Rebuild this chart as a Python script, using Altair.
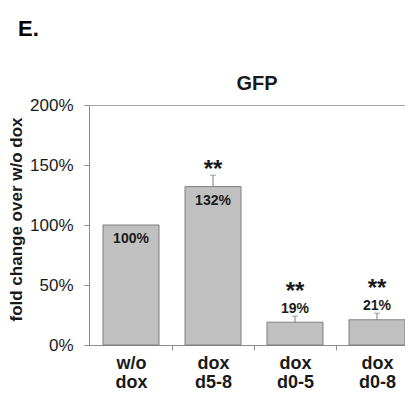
import altair as alt
import pandas as pd

FONT = "Liberation Sans"

# ---- data ----
categories = ["w/o dox", "dox d5-8", "dox d0-5", "dox d0-8"]
values = [1.00, 1.32, 0.19, 0.21]
errors = [0.0, 0.095, 0.05, 0.055]
value_labels = ["100%", "132%", "19%", "21%"]
stars = ["", "**", "**", "**"]
y_ticks = [0, 0.5, 1.0, 1.5, 2.0]
chart_title = ["GFP"]
panel_label = ["E."]

df = pd.DataFrame({
    "cat": categories,
    "value": values,
    "err": errors,
    "label": value_labels,
    "star": stars,
})
df["top"] = df["value"] + df["err"]

YTITLE = "fold change over w/o dox"
AXIS_GRAY = "#8c8c8c"
TEXT = "#1a1a1a"

xscale = alt.Scale(paddingInner=0.317, paddingOuter=0.0854, align=1.0)
yscale = alt.Scale(domain=[0, 2], nice=False)

xaxis = alt.Axis(
    title=None, labelAngle=0, labelFontSize=18, labelFontWeight="bold",
    labelColor=TEXT, labelFont=FONT, labelLineHeight=19, labelPadding=4,
    tickSize=5, tickOffset=41, labelOffset=-41,
    domainColor=AXIS_GRAY, tickColor=AXIS_GRAY,
    labelExpr="split(datum.label, ' ')",
)
yaxis = alt.Axis(
    title=YTITLE, values=y_ticks, format=".0%",
    grid=True, gridColor="#a8a8a8",
    gridOpacity={"condition": {"test": "datum.value >= 2", "value": 1}, "value": 0},
    labelFontSize=17, labelColor=TEXT, labelFont=FONT, labelPadding=11,
    tickSize=5, domainColor=AXIS_GRAY, tickColor=AXIS_GRAY,
    titleFontSize=17, titleFontWeight="bold", titleFont=FONT, titleColor=TEXT,
    titlePadding=4, titleY=114,
)

X = alt.X("cat:N", sort=categories, scale=xscale, axis=xaxis)

def Y(field):
    return alt.Y(field, scale=yscale, axis=yaxis, title=YTITLE)

base = alt.Chart(df).encode(x=X)

bars = base.mark_bar(fill="#c0c0c0", stroke="#7f7f7f", strokeWidth=1).encode(
    y=Y("value:Q")
)

err_base = base.transform_filter("datum.err > 0")
err_rule = err_base.mark_rule(color="#7f7f7f", strokeWidth=1).encode(
    y=Y("value:Q"), y2="top:Q"
)
err_cap = err_base.mark_tick(color="#7f7f7f", thickness=1, size=6).encode(
    y=Y("top:Q")
)

inside = base.transform_filter("datum.value >= 0.5")
outside = base.transform_filter("datum.value < 0.5")

lab_in = inside.mark_text(
    baseline="top", dy=7, fontSize=14, fontWeight="bold", font=FONT, color=TEXT
).encode(y=Y("value:Q"), text="label:N")

lab_out = outside.mark_text(
    baseline="alphabetic", dy=-3, fontSize=14, fontWeight="bold", font=FONT, color=TEXT
).encode(y=Y("top:Q"), text="label:N")

star_in = inside.transform_filter("datum.star != ''").mark_text(
    baseline="alphabetic", dy=2, fontSize=24, fontWeight="bold", font=FONT, color=TEXT
).encode(y=Y("top:Q"), text="star:N")

star_out = outside.mark_text(
    baseline="alphabetic", dy=-17, fontSize=24, fontWeight="bold", font=FONT, color=TEXT
).encode(y=Y("top:Q"), text="star:N")

title_mark = alt.Chart(pd.DataFrame({"t": chart_title})).mark_text(
    align="center", baseline="alphabetic", fontSize=20, fontWeight="bold",
    font=FONT, color=TEXT
).encode(x=alt.value(168), y=alt.value(-15), text="t:N")

panel = alt.Chart(pd.DataFrame({"t": panel_label})).mark_text(
    align="left", baseline="alphabetic", fontSize=22, fontWeight="bold",
    font=FONT, color="#000000"
).encode(x=alt.value(-71), y=alt.value(-69), text="t:N")

chart = alt.layer(
    bars, err_rule, err_cap, lab_in, lab_out, star_in, star_out, title_mark, panel
).properties(
    width=316,
    height=240,
    autosize=alt.AutoSizeParams(type="none"),
    padding={"left": 81, "top": 97, "right": 0, "bottom": 45},
).configure_view(stroke=None).configure(font=FONT)

chart.save("out.html", embed_options={"renderer": "svg", "actions": False})
